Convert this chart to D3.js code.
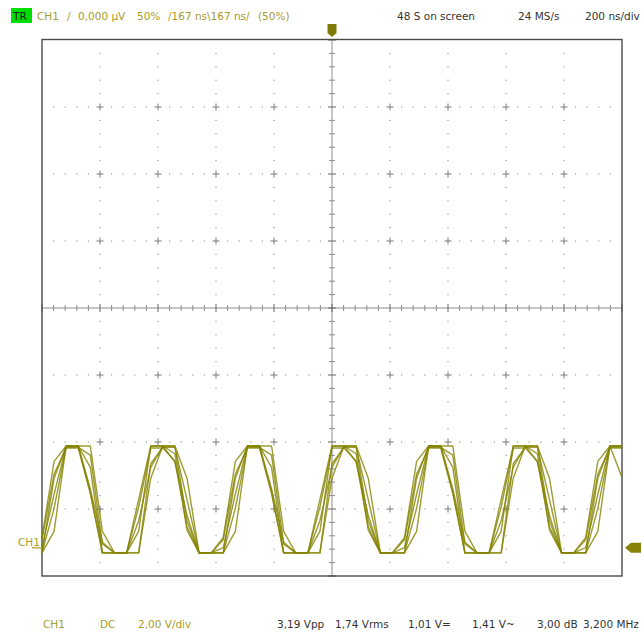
<!DOCTYPE html>
<html>
<head>
<meta charset="utf-8">
<script src="https://cdn.jsdelivr.net/npm/d3@7"></script>
<style>
  body { margin: 0; background: #fff; }
  svg text { font-family: "DejaVu Sans", Verdana, sans-serif; font-size: 10.5px; }
</style>
</head>
<body>
<div id="scope"></div>
<script>
// Scope capture: CH1, 200 ns/div, 2 V/div, 24 MS/s, several overlaid acquisitions (volts per sample)
const trace1 = [-0.15, 2.08, 3.04, 3.04, 2.40, -0.15, -0.15, -0.15, 0.49, 3.04, 3.04, 3.04, 0.81, -0.15, -0.15,
                -0.15, 2.08, 3.04, 3.04, 2.40, -0.15, -0.15, -0.15, 0.49, 3.04, 3.04, 3.04, 0.81, -0.15, -0.15,
                -0.15, 2.08, 3.04, 3.04, 2.40, -0.15, -0.15, -0.15, 0.49, 3.04, 3.04, 3.04, 0.81, -0.15, -0.15,
                -0.15, 2.08, 3.04, 3.04];
const trace2 = [-0.15, 1.18, 3.00, 3.00, 2.77, 0.12, -0.15, -0.15, -0.15, 2.51, 3.00, 3.00, 1.44, -0.15, -0.15,
                -0.15, 1.18, 3.00, 3.00, 2.77, 0.12, -0.15, -0.15, -0.15, 2.51, 3.00, 3.00, 1.44, -0.15, -0.15,
                -0.15, 1.18, 3.00, 3.00, 2.77, 0.12, -0.15, -0.15, -0.15, 2.51, 3.00, 3.00, 1.44, -0.15, -0.15,
                -0.15, 1.18, 3.00, 3.00];
const trace3 = [0.31, 2.58, 3.04, 3.04, 1.67, -0.15, -0.15, -0.15, 1.45, 3.04, 3.04, 2.81, 0.53, -0.15, -0.15,
                0.31, 2.58, 3.04, 3.04, 1.67, -0.15, -0.15, -0.15, 1.45, 3.04, 3.04, 2.81, 0.53, -0.15, -0.15,
                0.31, 2.58, 3.04, 3.04, 1.67, -0.15, -0.15, -0.15, 1.45, 3.04, 3.04, 2.81, 0.53, -0.15, -0.15,
                0.31, 2.58, 3.04, 3.04];
const trace4 = [0.01, 1.60, 3.04, 3.04, 1.76, 0.17, -0.15, -0.15, 0.81, 2.40, 3.04, 2.56, 0.97, -0.15, -0.15,
                0.01, 1.60, 3.04, 3.04, 1.76, 0.17, -0.15, -0.15, 0.81, 2.40, 3.04, 2.56, 0.97, -0.15, -0.15,
                0.01, 1.60, 3.04, 3.04, 1.76, 0.17, -0.15, -0.15, 0.81, 2.40, 3.04, 2.56, 0.97, -0.15, -0.15,
                0.01, 1.60, 3.04, 2.10];
const trace5 = [-0.15, 0.49, 3.04, 3.04, 3.04, 0.49, -0.15, -0.15, -0.15, 2.08, 3.04, 3.04, 2.08, -0.15, -0.15,
                -0.15, 0.49, 3.04, 3.04, 3.04, 0.49, -0.15, -0.15, -0.15, 2.08, 3.04, 3.04, 2.08, -0.15, -0.15,
                -0.15, 0.49, 3.04, 3.04, 3.04, 0.49, -0.15, -0.15, -0.15, 2.08, 3.04, 3.04, 2.08, -0.15, -0.15,
                -0.15, 0.49, 3.04, 3.04];
const trace6 = [0.24, 2.20, 2.98, 2.98, 1.61, -0.15, -0.15, -0.15, 1.22, 2.98, 2.98, 2.59, 0.63, -0.15, -0.15,
                0.24, 2.20, 2.98, 2.98, 1.61, -0.15, -0.15, -0.15, 1.22, 2.98, 2.98, 2.59, 0.63, -0.15, -0.15,
                0.24, 2.20, 2.98, 2.98, 1.61, -0.15, -0.15, -0.15, 1.22, 2.98, 2.98, 2.59, 0.63, -0.15, -0.15,
                0.24, 2.20, 2.98, 2.98];
const traces = [trace1, trace2, trace3, trace4, trace5, trace6];

// status line texts
const topStatus = ["CH1", "/", "0,000 µV", "50%", "/167 ns\\167 ns/", "(50%)"];
const topInfo = ["48 S on screen", "24 MS/s", "200 ns/div"];
const bottomChannel = ["CH1", "DC", "2,00 V/div"];
const bottomMeasures = ["3,19 Vpp", "1,74 Vrms", "1,01 V=", "1,41 V~", "3,00 dB", "3,200 MHz"];

const nsPerDiv = 200, voltsPerDiv = 2, sampleNs = 1000 / 24;
const ch1Offset = -3.58; // ground position in divisions from centre

const width = 642, height = 636;
const gold = "#a69c2c", traceColor = "#858300", dark = "#333";

const svg = d3.select("#scope").append("svg")
    .attr("width", width).attr("height", height);

// x in divisions (-5..5), y in divisions (-4..4)
const x = d3.scaleLinear().domain([-5, 5]).range([42, 622]);
const y = d3.scaleLinear().domain([-4, 4]).range([576, 40]);
const yVolt = (v) => y(v / voltsPerDiv + ch1Offset);

const grid = svg.append("g");

// dotted grid on major lines
const minorX = d3.range(-5, 5.001, 0.2).map((d) => +d.toFixed(1));
const minorY = d3.range(-4, 4.001, 0.2).map((d) => +d.toFixed(1));
const isMajor = (d) => Math.abs(d - Math.round(d)) < 1e-6;

[-3, -2, -1, 1, 2, 3].forEach((row) => {
    grid.selectAll(null).data(minorX.filter((d) => !isMajor(d)))
        .join("rect")
        .attr("x", (d) => x(d) - 0.6).attr("y", y(row) - 0.6)
        .attr("width", 1.2).attr("height", 1.2).attr("fill", "#9a9a9a");
});
[-4, -3, -2, -1, 1, 2, 3, 4].forEach((col) => {
    grid.selectAll(null).data(minorY.filter((d) => !isMajor(d)))
        .join("rect")
        .attr("x", x(col) - 0.6).attr("y", (d) => y(d) - 0.6)
        .attr("width", 1.2).attr("height", 1.2).attr("fill", "#9a9a9a");
});
// crosses at major intersections
[-4, -3, -2, -1, 1, 2, 3, 4].forEach((col) => {
    [-3, -2, -1, 1, 2, 3].forEach((row) => {
        grid.append("line").attr("x1", x(col) - 3.5).attr("x2", x(col) + 3.5)
            .attr("y1", y(row)).attr("y2", y(row)).attr("stroke", "#7a7a7a");
        grid.append("line").attr("x1", x(col)).attr("x2", x(col))
            .attr("y1", y(row) - 3.5).attr("y2", y(row) + 3.5).attr("stroke", "#7a7a7a");
    });
});

// centre axes with ticks
grid.append("line").attr("x1", x(-5)).attr("x2", x(5)).attr("y1", y(0)).attr("y2", y(0))
    .attr("stroke", "#8c8c8c");
grid.append("line").attr("x1", x(0)).attr("x2", x(0)).attr("y1", y(-4)).attr("y2", y(4))
    .attr("stroke", "#8c8c8c");
grid.selectAll(null).data(minorX).join("line")
    .attr("x1", (d) => x(d)).attr("x2", (d) => x(d))
    .attr("y1", (d) => y(0) - (isMajor(d) ? 4 : 3)).attr("y2", (d) => y(0) + (isMajor(d) ? 4 : 3))
    .attr("stroke", (d) => isMajor(d) ? "#666" : "#8c8c8c");
grid.selectAll(null).data(minorY).join("line")
    .attr("y1", (d) => y(d)).attr("y2", (d) => y(d))
    .attr("x1", (d) => x(0) - (isMajor(d) ? 4 : 3)).attr("x2", (d) => x(0) + (isMajor(d) ? 4 : 3))
    .attr("stroke", (d) => isMajor(d) ? "#666" : "#8c8c8c");

// frame
svg.append("rect")
    .attr("x", x(-5)).attr("y", y(4) - 0.5)
    .attr("width", x(5) - x(-5)).attr("height", y(-4) - y(4) + 0.5)
    .attr("fill", "none").attr("stroke", "#4a4a4a").attr("stroke-width", 1.4);

// traces
const line = d3.line()
    .x((v, k) => x(-5 + (k * sampleNs) / nsPerDiv))
    .y((v) => yVolt(v));
svg.append("g").selectAll("path").data(traces).join("path")
    .attr("d", line)
    .attr("fill", "none")
    .attr("stroke", traceColor)
    .attr("stroke-width", 1.4)
    .attr("stroke-opacity", 0.8)
    .attr("stroke-linejoin", "round");

// trigger position marker (top) and CH1 ground marker (right)
const tx = x(0);
svg.append("path")
    .attr("d", `M${tx - 4.5},24 L${tx + 4.5},24 L${tx + 4.5},33 L${tx},37 L${tx - 4.5},33 Z`)
    .attr("fill", "#7f7a08");
const gy = yVolt(0);
svg.append("path")
    .attr("d", `M641,${gy - 5} L631,${gy - 5} L625,${gy} L631,${gy + 5} L641,${gy + 5} Z`)
    .attr("fill", "#888208");

// CH1 label at left
svg.append("text").attr("x", 18).attr("y", gy - 2).attr("fill", gold).text("CH1");
svg.append("line").attr("x1", 32).attr("x2", x(-5)).attr("y1", gy).attr("y2", gy)
    .attr("stroke", gold).attr("stroke-width", 1.2);

// top status bar
svg.append("rect").attr("x", 11).attr("y", 8).attr("width", 21).attr("height", 15).attr("fill", "#00dd00");
svg.append("text").attr("x", 13).attr("y", 19.5).attr("fill", "#1a1a1a").text("TR");
const topX = [37, 67, 78, 137, 168, 258];
svg.selectAll(null).data(topStatus).join("text")
    .attr("x", (d, i) => topX[i]).attr("y", 19.5).attr("fill", gold).text((d) => d);
const infoX = [397, 518, 585];
svg.selectAll(null).data(topInfo).join("text")
    .attr("x", (d, i) => infoX[i]).attr("y", 19.5).attr("fill", dark).text((d) => d);

// bottom status bar
const chX = [43, 100, 138];
svg.selectAll(null).data(bottomChannel).join("text")
    .attr("x", (d, i) => chX[i]).attr("y", 628).attr("fill", gold).text((d) => d);
const measX = [277, 335, 408, 472, 537, 583];
svg.selectAll(null).data(bottomMeasures).join("text")
    .attr("x", (d, i) => measX[i]).attr("y", 628).attr("fill", dark).text((d) => d);
</script>
</body>
</html>
